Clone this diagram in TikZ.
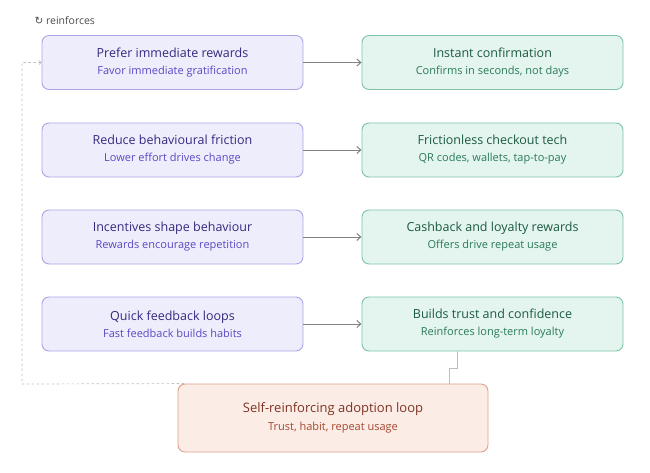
\documentclass[tikz,border=0pt]{standalone}
\usepackage{fontspec}
\setmainfont{Open Sans}
\newfontfamily\symfont{DejaVu Sans}
\usetikzlibrary{arrows.meta}
\definecolor{lfill}{HTML}{EEEDFC}
\definecolor{ldraw}{HTML}{ABA5E6}
\definecolor{ltitle}{HTML}{35297F}
\definecolor{lsub}{HTML}{5849C4}
\definecolor{rfill}{HTML}{E3F5EE}
\definecolor{rdraw}{HTML}{7EC4A5}
\definecolor{rtitle}{HTML}{1C5A42}
\definecolor{rsub}{HTML}{2A7A58}
\definecolor{ofill}{HTML}{FBECE6}
\definecolor{odraw}{HTML}{DFA08C}
\definecolor{otitle}{HTML}{7E3424}
\definecolor{osub}{HTML}{A4472F}
\definecolor{arrowgray}{HTML}{828282}
\definecolor{linkgray}{HTML}{BDBDBD}
\newcommand{\boxtext}[4]{{\color{#1}\fontsize{12.5}{15}\selectfont #2}\\[5pt]{\color{#3}\fontsize{11}{13}\selectfont #4}}
\newcommand{\looptext}[4]{{\color{#1}\fontsize{13}{16}\selectfont #2}\\[6pt]{\color{#3}\fontsize{11}{13}\selectfont #4}}
\begin{document}
\begin{tikzpicture}[x=1pt,y=-1pt,
  card/.style={rounded corners=7pt, line width=0.9pt, minimum width=261pt, align=center, inner sep=0pt},
  habit/.style={card, fill=lfill, draw=ldraw, minimum height=54pt},
  feature/.style={card, fill=rfill, draw=rdraw, minimum height=54pt},
  outcome/.style={card, fill=ofill, draw=odraw, minimum width=310pt, minimum height=68pt},
  flow/.style={draw=arrowgray, line width=1pt, -{Straight Barb[length=4pt,width=7pt]}},
  link/.style={draw=linkgray, line width=0.8pt},
  loopback/.style={draw=linkgray, line width=0.7pt, dashed, dash pattern=on 2.5pt off 2.5pt, -{Straight Barb[length=2pt,width=4pt]}}]
\useasboundingbox (0,0) rectangle (650,472);

\node[anchor=west, text=black!70, font=\fontsize{10.5}{12}\selectfont] (tag) at (31,21) {{\symfont\char"21BB}\ reinforces};

% behaviour side
\node[habit] (prefer) at (172.5,62.5) {\boxtext{ltitle}{Prefer immediate rewards}{lsub}{Favor immediate gratification}};
\node[habit] (friction) at (172.5,150) {\boxtext{ltitle}{Reduce behavioural friction}{lsub}{Lower effort drives change}};
\node[habit] (incent) at (172.5,237) {\boxtext{ltitle}{Incentives shape behaviour}{lsub}{Rewards encourage repetition}};
\node[habit] (quick) at (172.5,324) {\boxtext{ltitle}{Quick feedback loops}{lsub}{Fast feedback builds habits}};

% product side
\node[feature] (instant) at (492.5,62.5) {\boxtext{rtitle}{Instant confirmation}{rsub}{Confirms in seconds, not days}};
\node[feature] (checkout) at (492.5,150) {\boxtext{rtitle}{Frictionless checkout tech}{rsub}{QR codes, wallets, tap-to-pay}};
\node[feature] (cashback) at (492.5,237) {\boxtext{rtitle}{Cashback and loyalty rewards}{rsub}{Offers drive repeat usage}};
\node[feature] (trust) at (492.5,324) {\boxtext{rtitle}{Builds trust and confidence}{rsub}{Reinforces long-term loyalty}};

% loop
\node[outcome] (adopt) at (333,418) {\looptext{otitle}{Self-reinforcing adoption loop}{osub}{Trust, habit, repeat usage}};

\draw[flow] (prefer) -- (instant);
\draw[flow] (friction) -- (checkout);
\draw[flow] (incent) -- (cashback);
\draw[flow] (quick) -- (trust);

\coordinate (drop) at (457,368);
\draw[link] (trust.south -| drop) -- (drop) -- (449,368) -- (adopt.north -| 449,0);

\coordinate (corner) at (22,384);
\draw[loopback] (adopt.north -| 184,0) -- (corner) |- (prefer.west);
\end{tikzpicture}
\end{document}
